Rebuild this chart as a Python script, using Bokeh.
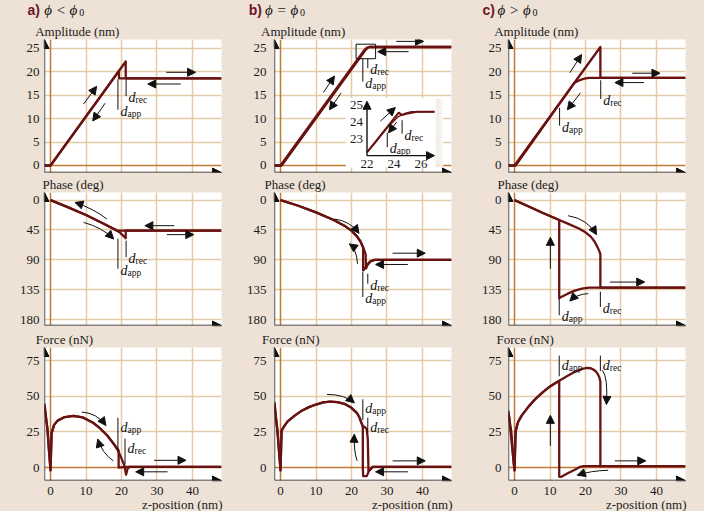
from bokeh.plotting import figure
from bokeh.layouts import column, row
from bokeh.models import Range1d, FixedTicker, Grid, Arrow, NormalHead, Title, ColumnDataSource
from bokeh.core.properties import value
from bokeh.embed import file_html
from bokeh.resources import INLINE

# ---------------- tick labels / texts ----------------
z_ticks = [0, 10, 20, 30, 40]
amp_ticks = [0, 5, 10, 15, 20, 25]
phase_ticks = [0, 45, 90, 135, 180]
force_ticks = [0, 25, 50, 75]
inset_x_ticks = [22, 24, 26]
inset_y_ticks = [23, 24, 25]
panel_letters = ["a)", "b)", "c)"]
panel_relations = ["ϕ < ϕ", "ϕ = ϕ", "ϕ > ϕ"]
row_titles = ["Amplitude (nm)", "Phase (deg)", "Force (nN)"]
x_title = "z-position (nm)"

# ---------------- panel a (phi < phi0) ----------------
amp_a_app_x = [48.2, 19.3, 19.3, 0.0, -1.7]
amp_a_app_y = [18.6, 18.6, 20.2, 0.0, 0.0]
amp_a_ret_x = [-1.7, 0.0, 21.2, 21.2, 48.2]
amp_a_ret_y = [0.0, 0.0, 22.2, 18.6, 18.6]
ph_a_app_x = [48.2, 19.3, 19.3, 15.0, 10.0, 5.0, 0.0]
ph_a_app_y = [46.0, 46.0, 47.5, 35.5, 22.5, 11.0, 0.0]
ph_a_ret_x = [0.0, 5.0, 10.0, 15.0, 19.3, 21.2, 21.2, 48.2]
ph_a_ret_y = [0.0, 11.0, 22.5, 35.5, 47.5, 57.5, 46.0, 46.0]
f_a_ret_x = [-1.7, -1.3, -0.8, -0.3, 0.0, 0.3, 1.0, 2.0, 4.0, 6.5, 9.0, 12.0, 14.0, 16.0, 18.0, 19.0, 20.0, 20.8, 21.3, 21.7, 22.2, 48.2]
f_a_ret_y = [45.0, 36.0, 25.0, 8.0, -2.0, 24.0, 30.0, 33.0, 35.5, 36.3, 35.3, 31.5, 27.5, 22.5, 16.0, 12.0, 6.5, 1.5, -5.0, -1.0, 0.5, 0.5]
f_a_app_x = [48.2, 21.0, 19.2, 19.2, 18.0, 16.0, 14.0, 12.0, 9.0, 6.5, 4.0, 2.0, 1.0, 0.3, 0.0, -0.4, -0.9, -1.7]
f_a_app_y = [0.5, 0.5, 0.0, 12.0, 16.0, 22.5, 27.5, 31.5, 35.3, 36.3, 35.5, 33.0, 30.0, 24.0, -2.0, 10.0, 28.0, 43.0]

# ---------------- panel b (phi = phi0) ----------------
amp_b_ret_x = [-1.7, 0.0, 23.6, 24.3, 25.0, 48.2]
amp_b_ret_y = [0.0, 0.0, 24.6, 25.1, 25.3, 25.3]
amp_b_app_x = [48.2, 25.2, 24.5, 23.8, 0.3, -1.7]
amp_b_app_y = [25.3, 25.3, 25.1, 24.5, 0.0, 0.0]
ph_b_ret_x = [0.0, 5.0, 10.0, 15.0, 18.0, 20.0, 21.6, 22.5, 23.2, 23.7, 24.0, 24.1, 24.6, 25.5, 26.5, 48.2]
ph_b_ret_y = [0.0, 8.5, 18.5, 30.0, 38.5, 46.0, 55.0, 62.0, 70.0, 77.0, 82.0, 103.0, 97.0, 92.0, 90.0, 90.0]
ph_b_app_x = [48.2, 26.5, 25.2, 24.2, 23.5, 23.3, 23.3, 22.5, 21.6, 20.0, 18.0, 15.0, 10.0, 5.0, 0.0]
ph_b_app_y = [90.0, 90.0, 92.5, 99.0, 105.0, 106.0, 72.0, 62.0, 55.0, 46.0, 38.5, 30.0, 18.5, 8.5, 0.0]
f_b_ret_x = [-1.7, -1.3, -0.8, -0.3, 0.0, 0.3, 1.0, 2.0, 4.0, 6.0, 8.0, 10.0, 12.0, 14.0, 16.0, 18.0, 20.0, 21.5, 22.3, 22.8, 23.2, 23.8, 24.3, 24.6, 24.8, 25.3, 26.0, 48.2]
f_b_ret_y = [46.0, 36.0, 25.0, 8.0, -2.0, 26.0, 29.0, 32.5, 36.5, 40.0, 42.5, 44.3, 45.8, 46.4, 46.0, 44.8, 42.0, 38.5, 35.0, 31.5, 29.0, 28.5, 27.0, 20.0, -2.5, -1.5, 0.5, 0.5]
f_b_app_x = [48.2, 26.0, 25.0, 24.3, 23.3, 23.2, 23.2, 22.8, 22.3, 21.5, 20.0, 18.0, 16.0, 14.0, 12.0, 10.0, 8.0, 6.0, 4.0, 2.0, 1.0, 0.3, 0.0, -0.4, -0.9, -1.7]
f_b_app_y = [0.5, 0.5, -2.0, -6.0, -6.0, 0.0, 29.0, 31.5, 35.0, 38.5, 42.0, 44.8, 46.0, 46.4, 45.8, 44.3, 42.5, 40.0, 36.5, 32.5, 29.0, 26.0, -2.0, 10.0, 26.0, 43.0]
ins_ret_x = [22.0, 24.35, 24.6, 25.0, 25.7, 27.0]
ins_ret_y = [22.2, 24.55, 24.4, 24.5, 24.6, 24.6]
ins_app_x = [27.0, 25.3, 24.8, 24.3, 23.5, 22.7, 22.0]
ins_app_y = [24.6, 24.6, 24.5, 24.3, 23.65, 22.85, 22.2]

# ---------------- panel c (phi > phi0) ----------------
amp_c_ret_x = [-1.7, 0.0, 24.2, 24.2, 48.2]
amp_c_ret_y = [0.0, 0.0, 25.3, 18.7, 18.7]
amp_c_app_x = [48.2, 21.0, 20.0, 19.0, 18.0, 16.8, 0.3, -1.7]
amp_c_app_y = [18.7, 18.7, 18.6, 18.4, 18.1, 17.6, 0.0, 0.0]
ph_c_ret_x = [0.0, 4.0, 8.0, 12.6, 15.0, 18.0, 20.0, 21.5, 22.5, 23.3, 24.0, 24.2, 24.2, 48.2]
ph_c_ret_y = [0.0, 9.5, 19.5, 30.0, 35.5, 42.5, 48.5, 55.0, 62.0, 70.0, 78.0, 82.0, 132.0, 132.0]
ph_c_app_x = [48.2, 21.0, 19.0, 17.0, 15.0, 13.0, 12.6, 12.6, 8.0, 4.0, 0.0]
ph_c_app_y = [132.0, 132.0, 133.5, 136.5, 141.0, 146.5, 148.0, 30.0, 19.5, 9.5, 0.0]
f_c_ret_x = [-1.7, -1.3, -0.7, -0.2, 0.0, 0.3, 0.6, 1.0, 2.0, 4.0, 6.0, 8.0, 10.0, 12.6, 15.0, 17.0, 19.0, 20.5, 21.5, 22.5, 23.3, 23.9, 24.2, 24.2, 48.2]
f_c_ret_y = [40.0, 30.0, 15.0, 2.0, -2.0, 25.0, 29.0, 32.0, 36.5, 43.0, 48.5, 53.0, 57.0, 61.0, 64.5, 67.3, 69.3, 70.0, 69.8, 68.5, 66.5, 63.5, 60.5, 1.0, 1.0]
f_c_app_x = [48.2, 19.5, 18.5, 17.0, 15.0, 13.2, 12.6, 12.6, 10.0, 8.0, 6.0, 4.0, 2.0, 1.0, 0.3, 0.0, -0.4, -0.9, -1.7]
f_c_app_y = [1.0, 1.0, 0.5, -1.5, -4.0, -6.5, -6.5, 61.0, 57.0, 53.0, 48.5, 43.0, 36.5, 32.0, 25.0, -2.0, 8.0, 25.0, 38.0]

# ---------------- annotation arrows (x0, y0, x1, y1) ----------------
amp_a_arrows = ([9.3, 15.4, 32.6, 36.7], [13.1, 13.3, 19.9, 17.4], [13.0, 11.9, 40.9, 27.4], [16.9, 9.5, 19.9, 17.4])
amp_b_arrows = ([12.1, 17.1, 32.6, 36.1], [15.6, 15.5, 26.5, 24.3], [15.2, 13.8, 40.3, 27.4], [19.1, 11.9, 26.5, 24.3])
amp_c_arrows = ([15.6, 18.6, 33.2, 36.5], [19.8, 15.5, 19.7, 17.7], [18.9, 14.9, 41.0, 28.3], [23.7, 11.9, 19.7, 17.7])
ph_a_arrows = ([34.9, 32.8], [38.5, 52.0], [26.6, 40.4], [38.5, 52.0])
ph_b_arrows = ([31.6, 35.9], [80.0, 97.0], [40.8, 26.8], [80.0, 97.0])
ph_c_arrows = ([10.1, 26.9], [103.5, 123.5], [10.1, 36.7], [56.0, 123.5])
f_a_arrows = ([29.2, 33.0], [5.1, -3.0], [38.2, 24.0], [5.1, -3.0])
f_b_arrows = ([31.6, 35.9], [4.7, -3.0], [40.8, 26.8], [4.7, -3.0])
f_c_arrows = ([10.1, 28.3], [15.2, 4.7], [10.1, 37.0], [36.7, 4.7])
ins_arrows = ([23.0, 24.2], [24.05, 24.0], [24.1, 23.6], [24.85, 23.35])
# curved arrows (x0, y0, cx, cy, x1, y1)
ph_a_curved = ([15.9, 9.3], [28.5, 33.5], [12.0, 14.5], [12.5, 41.0], [6.9, 17.8], [3.5, 58.5])
ph_b_curved = ([15.2, 21.7], [28.5, 96.0], [19.5, 21.5], [31.0, 74.0], [22.1, 19.4], [50.0, 66.0])
ph_c_curved = ([15.1, 20.8], [23.5, 141.0], [20.5, 17.6], [28.0, 141.5], [23.1, 15.6], [52.0, 152.0])
f_a_curved = ([8.8, 17.7], [39.0, 4.7], [13.0, 14.6], [38.5, 10.0], [15.6, 13.3], [29.6, 20.0])
f_b_curved = ([13.1, 21.6], [51.4, 4.7], [18.0, 20.6], [51.5, 12.0], [20.8, 20.8], [45.5, 23.4])
f_c_curved = ([26.4, 24.8], [-1.9, 68.4], [21.5, 26.4], [-2.2, 63.0], [17.7, 25.9], [-5.4, 44.4])

# ---------------- d_app / d_rec markers (x, y_top, y_bottom, subscript) ----------------
amp_a_d = ([21.3, 19.0], [18.4, 18.4], [14.8, 11.9], ["rec", "app"])
amp_b_d = ([24.6, 23.2], [22.9, 22.9], [20.8, 17.9], ["rec", "app"])
amp_c_d = ([24.3, 12.7], [18.2, 12.3], [14.2, 8.5], ["rec", "app"])
ph_a_d = ([21.3, 19.0], [61.0, 58.0], [86.0, 103.5], ["rec", "app"])
ph_b_d = ([24.6, 23.2], [111.0, 108.5], [126.0, 146.0], ["rec", "app"])
ph_c_d = ([24.2, 12.6], [138.0, 148.5], [161.0, 173.5], ["rec", "app"])
f_a_d = ([19.0, 21.0], [35.0, 20.3], [11.7, 2.3], ["app", "rec"])
f_b_d = ([23.2, 24.6], [48.0, 35.0], [33.4, 24.5], ["app", "rec"])
f_c_d = ([12.6, 24.2], [78.7, 78.7], [64.2, 67.8], ["app", "rec"])
ins_d = ([24.6, 23.5], [24.1, 23.35], [23.3, 22.5], ["rec", "app"])

# ---------------- style / layout ----------------
BG = "#eee2d6"
GRID_C = "#e4cba6"
ZERO_C = "#c27934"
CURVE_C = "#681212"
INK = "#111111"
LETTER_C = "#6e1426"
SERIF = "Liberation Serif"
SERIF_GREEK = "Liberation Serif, DejaVu Serif"
SANS = "Liberation Sans"

XR = (-1.7, 48.2)
YRS = [(-1.5, 26.9), (189.0, -11.5), (-9.1, 84.4)]
Y_TICKS = [amp_ticks, phase_ticks, force_ticks]
Y_GRID = [[5, 10, 15, 20, 25], [0, 45, 90, 135, 180], [25, 50, 75]]
ZERO_H = [True, False, True]
STRIP_H = 20
ROW_H = [153, 154, 184]
ROW_BT = [18, 19, 20]
ROW_BB = [1, 2, 31]
COL_W = [228, 244, 232]
COL_BL = [44, 46, 36]
COL_BR = [7, 21, 19]
STAND = [5, 8, 7]
TITLE_DX = [[-9.3, -13.4, -14.3], [-2.0, -10.0, -11.0], [-8.7, -12.4, -12.0]]
TITLE_SO = [2, 2, 2]
LETTER_DX = [-17.0, -25.7, -26.0]
PHI_DX = [-0.3, -9.4, -11.0]
SHADE = ["#f7f4f0", "#f1ece6", "#f4f0eb", "#faf8f6"]


def head(size):
    return NormalHead(size=size, fill_color=INK, line_color=INK, line_width=1)


def draw_arrows(p, arr, **kw):
    src = ColumnDataSource(dict(x0=arr[0], y0=arr[1], x1=arr[2], y1=arr[3]))
    p.add_layout(Arrow(end=head(8), source=src, x_start="x0", y_start="y0", x_end="x1", y_end="y1",
                       line_color=INK, line_width=1, **kw))


def draw_curved(p, arr, **kw):
    x0, y0, cx, cy, x1, y1 = arr
    p.quadratic(x0=x0, y0=y0, x1=x1, y1=y1, cx=cx, cy=cy, line_color=INK, line_width=1, **kw)
    src = ColumnDataSource(dict(x0=cx, y0=cy, x1=x1, y1=y1))
    p.add_layout(Arrow(end=head(8), source=src, x_start="x0", y_start="y0", x_end="x1", y_end="y1",
                       line_alpha=0, **kw))


def draw_d(p, d, mode, **kw):
    xs, tops, bots, subs = d
    p.segment(x0=xs, y0=tops, x1=xs, y1=bots, line_color=INK, line_width=1, **kw)
    ys = bots if mode == "bottom" else tops
    off = 1.5 if mode == "bottom" else 9.5
    p.text(x=xs, y=ys, text=["d"] * len(xs), x_offset=2.5, y_offset=off,
           text_font=value(SERIF), text_font_style="italic", text_font_size=value("14px"),
           text_baseline="alphabetic", text_align="left", text_color=INK, **kw)
    p.text(x=xs, y=ys, text=subs, x_offset=9.5, y_offset=off + 2.5,
           text_font=value(SERIF), text_font_size=value("9.5px"),
           text_baseline="alphabetic", text_align="left", text_color=INK, **kw)


def make_strip(c):
    s = figure(width=COL_W[c], height=STRIP_H, x_range=Range1d(0, COL_W[c]), y_range=Range1d(0, STRIP_H),
               x_axis_type=None, y_axis_type=None, tools="", toolbar_location=None, output_backend="svg",
               min_border_left=0, min_border_right=0, min_border_top=0, min_border_bottom=0,
               background_fill_color=BG, border_fill_color=BG, outline_line_color=None)
    s.title.visible = False
    x0 = COL_BL[c]
    s.text(x=[x0 + LETTER_DX[c]], y=[11], text=[panel_letters[c]], text_font=value(SANS),
           text_font_style="bold", text_font_size=value("14px"), text_color=LETTER_C,
           text_baseline="middle", text_align="left")
    s.text(x=[x0 + PHI_DX[c]], y=[11], text=[panel_relations[c]], text_font=value(SERIF_GREEK),
           text_font_style="italic", text_font_size=value("15px"), text_color=INK,
           text_baseline="middle", text_align="left")
    s.text(x=[x0 + PHI_DX[c] + 35], y=[8], text=["0"], text_font=value(SERIF),
           text_font_size=value("10px"), text_color=INK, text_baseline="middle", text_align="left")
    return s


def make_panel(r, c):
    yr = YRS[r]
    p = figure(width=COL_W[c], height=ROW_H[r], x_range=Range1d(*XR), y_range=Range1d(*yr),
               tools="", toolbar_location=None, output_backend="svg",
               min_border_left=COL_BL[c], min_border_right=COL_BR[c],
               min_border_top=ROW_BT[r], min_border_bottom=ROW_BB[r],
               background_fill_color="white", border_fill_color=BG, outline_line_color=None)
    t = p.title
    t.text = row_titles[r]
    t.align = "left"
    t.offset = TITLE_DX[r][c]
    t.standoff = TITLE_SO[r]
    t.text_font = SERIF
    t.text_font_size = "13px"
    t.text_font_style = "normal"
    t.text_color = "#1b1b1b"

    yax = p.yaxis[0]
    xax = p.xaxis[0]
    yax.ticker = FixedTicker(ticks=Y_TICKS[r])
    xax.ticker = FixedTicker(ticks=z_ticks)
    for ax in (xax, yax):
        ax.axis_line_color = None
        ax.major_tick_line_color = None
        ax.minor_tick_line_color = None
        ax.major_tick_out = 0
        ax.major_tick_in = 0
        ax.minor_tick_out = 0
        ax.minor_tick_in = 0
        ax.major_label_text_font = SERIF
        ax.major_label_text_font_size = "13px"
        ax.major_label_text_color = "#1b1b1b"
    yax.major_label_standoff = STAND[c]
    xax.major_label_standoff = 6
    xax.visible = (r == 2)

    p.xgrid[0].ticker = FixedTicker(ticks=[10, 20, 30, 40])
    p.ygrid[0].ticker = FixedTicker(ticks=Y_GRID[r])
    for g in (p.xgrid[0], p.ygrid[0]):
        g.grid_line_color = GRID_C
        g.grid_line_width = 1.5
    p.add_layout(Grid(dimension=0, ticker=FixedTicker(ticks=[0]), grid_line_color=ZERO_C, grid_line_width=1.5))
    if ZERO_H[r]:
        p.add_layout(Grid(dimension=1, ticker=FixedTicker(ticks=[0]), grid_line_color=ZERO_C, grid_line_width=1.5))

    # axis lines with arrow heads
    p.add_layout(Arrow(end=head(9), x_start=XR[0], y_start=yr[0], x_end=XR[0], y_end=yr[1],
                       line_color=INK, line_width=1.4))
    p.add_layout(Arrow(end=head(9), x_start=XR[0], y_start=yr[0], x_end=XR[1], y_end=yr[0],
                       line_color=INK, line_width=1.4))
    if r == 2:
        p.add_layout(Title(text=x_title, align="right", offset=-1, standoff=-5, text_font=SERIF,
                           text_font_size="13px", text_font_style="normal", text_color="#1b1b1b"), "below")
    return p


def curves(p, app_x, app_y, ret_x, ret_y, **kw):
    p.line(app_x, app_y, line_color=CURVE_C, line_width=2.3, line_join="round", **kw)
    p.line(ret_x, ret_y, line_color=CURVE_C, line_width=2.3, line_join="round", **kw)


strips = [make_strip(c) for c in range(3)]
panels = [[make_panel(r, c) for c in range(3)] for r in range(3)]

# ---- amplitude row ----
pa, pb, pc = panels[0]
curves(pa, amp_a_app_x, amp_a_app_y, amp_a_ret_x, amp_a_ret_y)
draw_arrows(pa, amp_a_arrows)
draw_d(pa, amp_a_d, "bottom")

curves(pb, amp_b_app_x, amp_b_app_y, amp_b_ret_x, amp_b_ret_y)
draw_arrows(pb, amp_b_arrows)
draw_d(pb, amp_b_d, "bottom")
pb.quad(left=21.3, right=26.8, bottom=22.8, top=25.9, fill_color=None, line_color=INK, line_width=1)
# inset (its own scales)
pb.extra_x_ranges = {"ins": Range1d(15.148, 28.259)}
pb.extra_y_ranges = {"ins": Range1d(21.0, 28.882)}
IK = dict(x_range_name="ins", y_range_name="ins")
pb.quad(left=[27.05, 27.2, 27.35, 27.5], right=[27.2, 27.35, 27.5, 27.65], bottom=21.3, top=25.35,
        fill_color=SHADE, line_color=None, **IK)
pb.quad(left=20.43, right=27.05, bottom=21.3, top=25.41, fill_color="white", line_color=None, **IK)
pb.add_layout(Arrow(end=head(8), x_start=22.0, y_start=22.0, x_end=22.0, y_end=25.22,
                    line_color=INK, line_width=1.4, **IK))
pb.add_layout(Arrow(end=head(8), x_start=22.0, y_start=22.0, x_end=27.0, y_end=22.0,
                    line_color=INK, line_width=1.4, **IK))
pb.text(x=inset_x_ticks, y=[22.0] * 3, text=[str(t) for t in inset_x_ticks], y_offset=8,
        text_font=value(SERIF), text_font_size=value("13px"), text_align="center",
        text_baseline="middle", text_color="#1b1b1b", **IK)
pb.text(x=[22.0] * 3, y=inset_y_ticks, text=[str(t) for t in inset_y_ticks], x_offset=-4,
        text_font=value(SERIF), text_font_size=value("13px"), text_align="right",
        text_baseline="middle", text_color="#1b1b1b", **IK)
pb.line(ins_ret_x, ins_ret_y, line_color=CURVE_C, line_width=2.0, **IK)
pb.line(ins_app_x, ins_app_y, line_color=CURVE_C, line_width=1.4, **IK)
draw_arrows(pb, ins_arrows, **IK)
draw_d(pb, ins_d, "bottom", **IK)

curves(pc, amp_c_app_x, amp_c_app_y, amp_c_ret_x, amp_c_ret_y)
draw_arrows(pc, amp_c_arrows)
draw_d(pc, amp_c_d, "bottom")

# ---- phase row ----
qa, qb, qc = panels[1]
curves(qa, ph_a_app_x, ph_a_app_y, ph_a_ret_x, ph_a_ret_y)
draw_arrows(qa, ph_a_arrows)
draw_curved(qa, ph_a_curved)
draw_d(qa, ph_a_d, "bottom")
curves(qb, ph_b_app_x, ph_b_app_y, ph_b_ret_x, ph_b_ret_y)
draw_arrows(qb, ph_b_arrows)
draw_curved(qb, ph_b_curved)
draw_d(qb, ph_b_d, "bottom")
curves(qc, ph_c_app_x, ph_c_app_y, ph_c_ret_x, ph_c_ret_y)
draw_arrows(qc, ph_c_arrows)
draw_curved(qc, ph_c_curved)
draw_d(qc, ph_c_d, "bottom")

# ---- force row ----
fa, fb, fc = panels[2]
curves(fa, f_a_app_x, f_a_app_y, f_a_ret_x, f_a_ret_y)
draw_arrows(fa, f_a_arrows)
draw_curved(fa, f_a_curved)
draw_d(fa, f_a_d, "top")
curves(fb, f_b_app_x, f_b_app_y, f_b_ret_x, f_b_ret_y)
draw_arrows(fb, f_b_arrows)
draw_curved(fb, f_b_curved)
draw_d(fb, f_b_d, "top")
curves(fc, f_c_app_x, f_c_app_y, f_c_ret_x, f_c_ret_y)
draw_arrows(fc, f_c_arrows)
draw_curved(fc, f_c_curved)
draw_d(fc, f_c_d, "top")

BGS = {"background-color": BG}
layout = column(row(*strips, styles=BGS),
                *[row(*panels[r], styles=BGS) for r in range(3)], styles=BGS)
open("out.html", "w").write(file_html(layout, INLINE))
